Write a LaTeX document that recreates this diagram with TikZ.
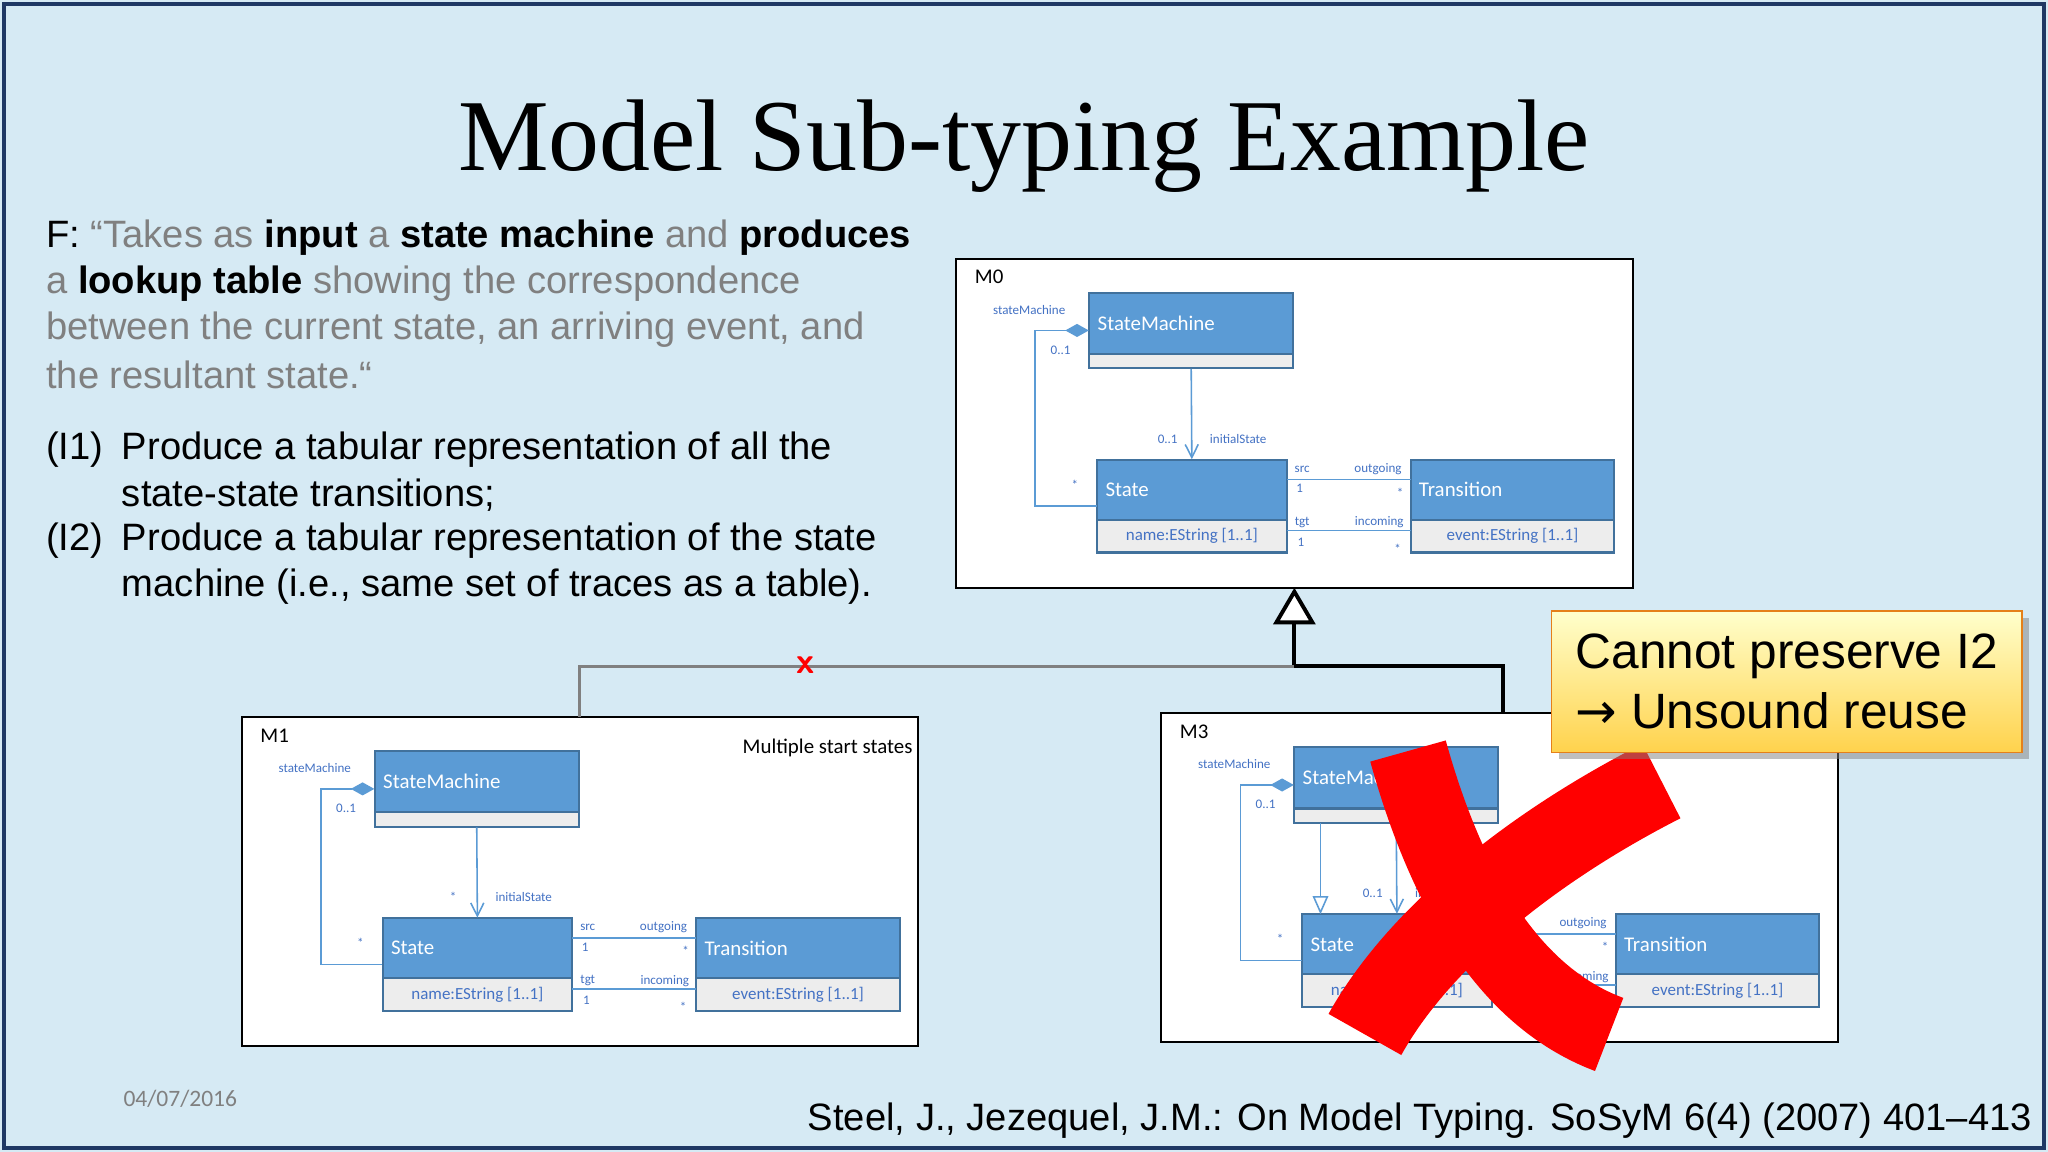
\documentclass[tikz,border=0pt]{standalone}
\usepackage{fontspec}
\setmainfont{Liberation Sans}
\newfontfamily\titlefont{Liberation Serif}
\newfontfamily\umlfont{Carlito}
\newfontfamily\symfont{DejaVu Sans}
\usetikzlibrary{arrows.meta,fit,shadows}
\definecolor{bg}{HTML}{D6EAF4}
\definecolor{frameblue}{HTML}{1F3864}
\definecolor{umlblue}{HTML}{5B9BD5}
\definecolor{umledge}{HTML}{41719C}
\definecolor{umlgray}{HTML}{EDEDED}
\definecolor{umltext}{HTML}{4472C4}
\definecolor{quotegray}{HTML}{808080}
\tikzset{
  lbl/.style={font=\umlfont\fontsize{5}{6}\selectfont, text=umltext, inner sep=0},
  hdr/.style={font=\umlfont\fontsize{8}{9}\selectfont, text=white, anchor=west, inner sep=0},
  att/.style={font=\umlfont\fontsize{6.5}{7}\selectfont, text=umltext, inner sep=0},
  assoc/.style={draw=umlblue, line width=0.6pt},
  body/.style={font=\fontsize{14.6}{16}\selectfont, anchor=west, inner sep=0},
  mframe/.style={draw=black, fill=white, line width=0.8pt}
}
\newcommand{\umlbox}[8]{%
  \fill[umlgray] (#2,#3) rectangle (#4,#5);
  \fill[umlblue] (#2,#3) rectangle (#4,#6);
  \draw[umledge, line width=0.8pt] (#2,#3) rectangle (#4,#5) (#2,#6) -- (#4,#6);
  \node[hdr] at (#2+6,{(#3+#6)/2}) {#7};
  \node[att] at ({(#2+#4)/2},{(#6+#5)/2}) {#8};
  \node[inner sep=0, fit={(#2,#3) (#4,#5)}] (#1) {};
}
\newcommand{\umldiag}[2]{%
  \draw[mframe] (732,198) rectangle (1250,450);
  \node[anchor=west, inner sep=0, font=\umlfont\fontsize{8}{9}\selectfont] at (746,212) {#1};
  \umlbox{sm}{834}{224}{990}{282}{271}{StateMachine}{}
  \umlbox{st}{840}{352}{985}{423}{398}{State}{name:EString [1..1]}
  \umlbox{tr}{1080}{352}{1236}{423}{398}{Transition}{event:EString [1..1]}
  \draw[assoc, -{Diamond[fill=umlblue,length=9pt,width=5pt]}] (st.west) -- ++(-47,0) |- (sm.west);
  \node[lbl] at (788,237) {stateMachine};
  \node[lbl] at (812,268) {0..1};
  \node[lbl] at (823,371) {*};
  \draw[assoc, -{Straight Barb[length=5pt,width=5pt]}] (sm.south) -- (st.north);
  \node[lbl] at (894,336) {#2};
  \node[lbl] at (948,336) {initialState};
  \coordinate (s1) at (985,367); \coordinate (t1) at (1080,367);
  \coordinate (s2) at (985,406); \coordinate (t2) at (1080,406);
  \draw[assoc] (s1) -- (t1);
  \draw[assoc] (s2) -- (t2);
  \node[lbl] at (997,359) {src};
  \node[lbl] at (995,374) {1};
  \node[lbl] at (1055,359) {outgoing};
  \node[lbl] at (1072,377) {*};
  \node[lbl] at (997,400) {tgt};
  \node[lbl] at (996,415) {1};
  \node[lbl] at (1056,400) {incoming};
  \node[lbl] at (1070,420) {*};
}
\begin{document}
\begin{tikzpicture}[x=0.5pt,y=-0.5pt]
\fill[bg] (0,0) rectangle (1568,882);
\draw[frameblue, line width=1.5pt] (3,3) rectangle (1565,879);
% title
\node[font=\titlefont\fontsize{39}{44}\selectfont] (title) at (784,112) {Model Sub-typing Example};
% body text
\node[body] (l1) at (35,182) {F: \textcolor{quotegray}{“Takes as} \textbf{input} \textcolor{quotegray}{a} \textbf{state machine} \textcolor{quotegray}{and} \textbf{produces}};
\node[body, text=quotegray] (l2) at (35,217) {a \textcolor{black}{\textbf{lookup table}} showing the correspondence};
\node[body, text=quotegray] (l3) at (35,252) {between the current state, an arriving event, and};
\node[body, text=quotegray] (l4) at (35,287) {the resultant state.“};
\node[body] (i1) at (35,344) {(I1)};
\node[body] (i1a) at (93,344) {Produce a tabular representation of all the};
\node[body] (i1b) at (93,379) {state-state transitions;};
\node[body] (i2) at (35,414) {(I2)};
\node[body] (i2a) at (93,414) {Produce a tabular representation of the state};
\node[body] (i2b) at (93,449) {machine (i.e., same set of traces as a table).};
% diagrams
\begin{scope}[name prefix=m0-]
\umldiag{M0}{0..1}
\coordinate (fb) at (991,450);
\end{scope}
\begin{scope}[shift={(-547,351)}, name prefix=m1-]
\umldiag{M1}{*}
\node[anchor=east, inner sep=0, font=\umlfont\fontsize{8}{9}\selectfont] at (1246,222) {Multiple start states};
\coordinate (ft) at (991,198);
\end{scope}
\begin{scope}[shift={(157,348)}, name prefix=m3-]
\umldiag{M3}{0..1}
\draw[assoc, -{Triangle[open,fill=white,length=7pt,width=6pt]}] (854,282) -- (854,352);
\coordinate (ft) at (994,199);
\end{scope}
% generalization tree
\coordinate (j) at (991,510);
\draw[line width=1.5pt, -{Triangle[open,fill=white,length=14pt,width=16pt]}] (j) -- (m0-fb);
\draw[line width=1.5pt] (j) -| (m3-ft);
\draw[gray, line width=1.2pt] (j) -| (m1-ft);
\node[text=red, font=\bfseries\fontsize{14}{14}\selectfont] (smallx) at (617,509) {\textsf{x}};
% big red X
\draw[red, line width=30pt] (1078,575) .. controls (1110,690) and (1160,765) .. (1232,792);
\draw[red, line width=32pt] (1272,598) .. controls (1170,650) and (1085,720) .. (1045,792);
% callout
\node[draw=orange!60!brown, line width=0.6pt, top color=yellow!20!white, bottom color=yellow!50!orange!70, drop shadow, minimum width=180pt, minimum height=54pt, align=left, font=\fontsize{19}{23}\selectfont] (call) at (1368,522) {Cannot preserve I2\\ {\symfont →} Unsound reuse};
% footer
\node[text=gray, font=\umlfont\fontsize{9}{10}\selectfont] (date) at (138,841) {04/07/2016};
\node[anchor=east, font=\fontsize{14.6}{16}\selectfont, inner sep=0] (cite) at (1556,858) {Steel, J., Jezequel, J.M.: On Model Typing. SoSyM 6(4) (2007) 401–413};
\end{tikzpicture}
\end{document}
